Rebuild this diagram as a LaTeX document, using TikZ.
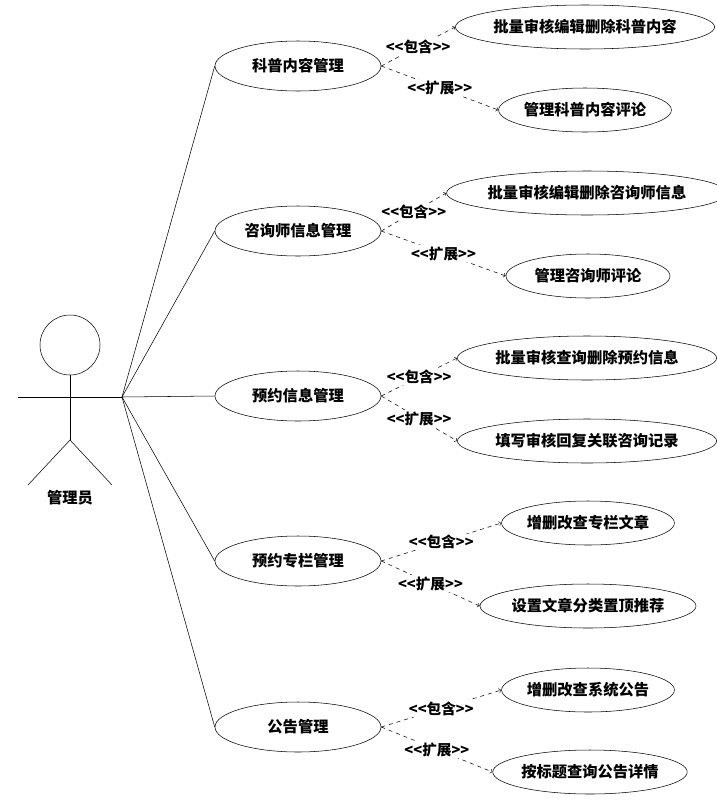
\documentclass[tikz,border=0pt]{standalone}
\usepackage{fontspec}
\setmainfont{Noto Sans CJK SC}
\usetikzlibrary{shapes.geometric, arrows}
\begin{document}
\begin{tikzpicture}[x=0.02646cm, y=-0.02646cm, >=to,
		usecase/.style={draw, ellipse, inner sep=0pt, font=\fontsize{11.5}{13}\selectfont\bfseries},
		dep/.style={->, dashed},
		tag/.style={midway, fill=white, inner sep=1pt, font=\fontsize{11}{12}\selectfont\bfseries}]

		\useasboundingbox (0,0) rectangle (716,802);

		% Actor
		\node[draw, circle, minimum size=60*0.02646cm, inner sep=0pt] (head) at (70,345) {};
		\coordinate (hand) at (122,397);
		\draw (head.south) -- (70,440) coordinate (hip);
		\draw (18,397) -- (hand);
		\draw (28,485) -- (hip) -- (112,485);
		\node[font=\fontsize{11.5}{13}\selectfont\bfseries] (actor) at (70,498) {管理员};

		% Main use cases
		\node[usecase, minimum width=166*0.02646cm, minimum height=50*0.02646cm] (m1) at (298,66) {科普内容管理};
		\node[usecase, minimum width=166*0.02646cm, minimum height=50*0.02646cm] (m2) at (298,231) {咨询师信息管理};
		\node[usecase, minimum width=166*0.02646cm, minimum height=50*0.02646cm] (m3) at (298,396) {预约信息管理};
		\node[usecase, minimum width=166*0.02646cm, minimum height=50*0.02646cm] (m4) at (298,561) {预约专栏管理};
		\node[usecase, minimum width=166*0.02646cm, minimum height=50*0.02646cm] (m5) at (298,727) {公告管理};

		% Sub use cases
		\node[usecase, minimum width=236*0.02646cm, minimum height=44*0.02646cm] (a1) at (585,27) {批量审核编辑删除科普内容};
		\node[usecase, minimum width=156*0.02646cm, minimum height=44*0.02646cm] (b1) at (585,110) {管理科普内容评论};
		\node[usecase, minimum width=250*0.02646cm, minimum height=44*0.02646cm] (a2) at (587,193) {批量审核编辑删除咨询师信息};
		\node[usecase, minimum width=164*0.02646cm, minimum height=44*0.02646cm] (b2) at (588,276) {管理咨询师评论};
		\node[usecase, minimum width=240*0.02646cm, minimum height=44*0.02646cm] (a3) at (587,358) {批量审核查询删除预约信息};
		\node[usecase, minimum width=236*0.02646cm, minimum height=44*0.02646cm] (b3) at (587,441) {填写审核回复关联咨询记录};
		\node[usecase, minimum width=166*0.02646cm, minimum height=44*0.02646cm] (a4) at (588,523) {增删改查专栏文章};
		\node[usecase, minimum width=196*0.02646cm, minimum height=44*0.02646cm] (b4) at (588,606) {设置文章分类置顶推荐};
		\node[usecase, minimum width=164*0.02646cm, minimum height=44*0.02646cm] (a5) at (588,690) {增删改查系统公告};
		\node[usecase, minimum width=176*0.02646cm, minimum height=44*0.02646cm] (b5) at (590,772) {按标题查询公告详情};

		% Associations and dependencies
		\foreach \i in {1,...,5} {
			\draw (hand) -- (m\i.west);
			\draw[dep] (m\i.east) -- (a\i.west) node[tag] {{<}{<}包含{>}{>}};
			\draw[dep] (m\i.east) -- (b\i.west) node[tag] {{<}{<}扩展{>}{>}};
		}

	\end{tikzpicture}
\end{document}
